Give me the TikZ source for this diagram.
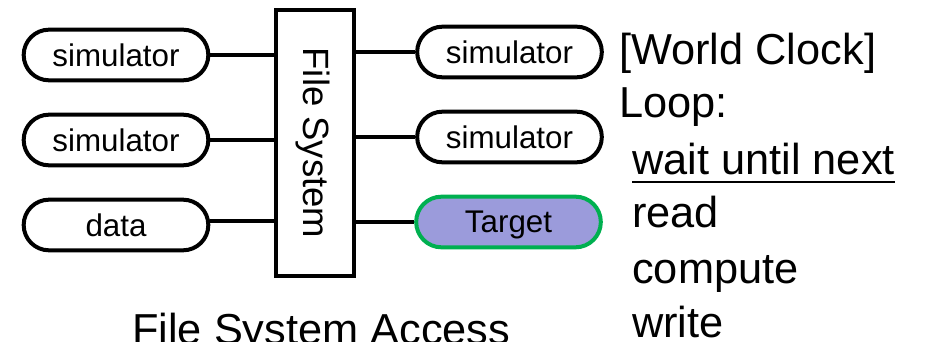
\documentclass[tikz,border=0pt]{standalone}
\usepackage{fontspec}
\setmainfont{Liberation Sans}
\begin{document}
\begin{tikzpicture}[x=0.75pt,y=-0.75pt,
  pill/.style={draw=black,line width=3pt,rounded corners=19pt,minimum width=138.5pt,minimum height=38pt,inner sep=0pt,text depth=0pt,font=\fontsize{23.5}{27}\selectfont},
  target/.style={pill,draw={rgb,255:red,0;green,176;blue,80},fill={rgb,255:red,155;green,155;blue,219}},
  fsbox/.style={draw=black,line width=3pt,minimum width=58.5pt,minimum height=200pt,inner sep=0pt},
  link/.style={line width=3pt},
  bigtext/.style={anchor=base west,inner sep=0pt,font=\fontsize{32.5}{36}\selectfont}]
\useasboundingbox (0,0) rectangle (926,342);
% file system in the middle
\node[fsbox] (fs) at (315,143) {};
\node[rotate=-90,font=\fontsize{27.4}{30}\selectfont] (fsl) at (313,143) {File System};
% left side
\node[pill] (l1) at (116,55) {simulator};
\node[pill] (l2) at (116,140) {simulator};
\node[pill] (l3) at (116,225) {data};
% right side
\node[pill] (r1) at (509.5,52) {simulator};
\node[pill] (r2) at (509.5,137) {simulator};
\node[target] (r3) at (508.5,222) {Target};
% connectors
\draw[link] (l1.east) -- (l1.east -| fs.west);
\draw[link] (l2.east) -- (l2.east -| fs.west);
\draw[link] (l3.east |- 0,221) coordinate (c3) -- (c3 -| fs.west);
\draw[link] (fs.east |- r1.west) -- (r1.west);
\draw[link] (fs.east |- r2.west) -- (r2.west);
\draw[link] (fs.east |- r3.west) -- (r3.west);
% caption
\node[bigtext] (cap) at (132,345) {File System Access};
% world clock loop
\node[bigtext] (t1) at (619,65) {[World Clock]};
\node[bigtext] (t2) at (619,118) {Loop:};
\node[bigtext] (t3) at (632,175) {wait until next};
\draw[line width=1.5pt] (t3.base west |- 0,182) -- (t3.base east |- 0,182);
\node[bigtext] (t4) at (632,228) {read};
\node[bigtext] (t5) at (632,284) {compute};
\node[bigtext] (t6) at (632,338) {write};
\end{tikzpicture}
\end{document}
